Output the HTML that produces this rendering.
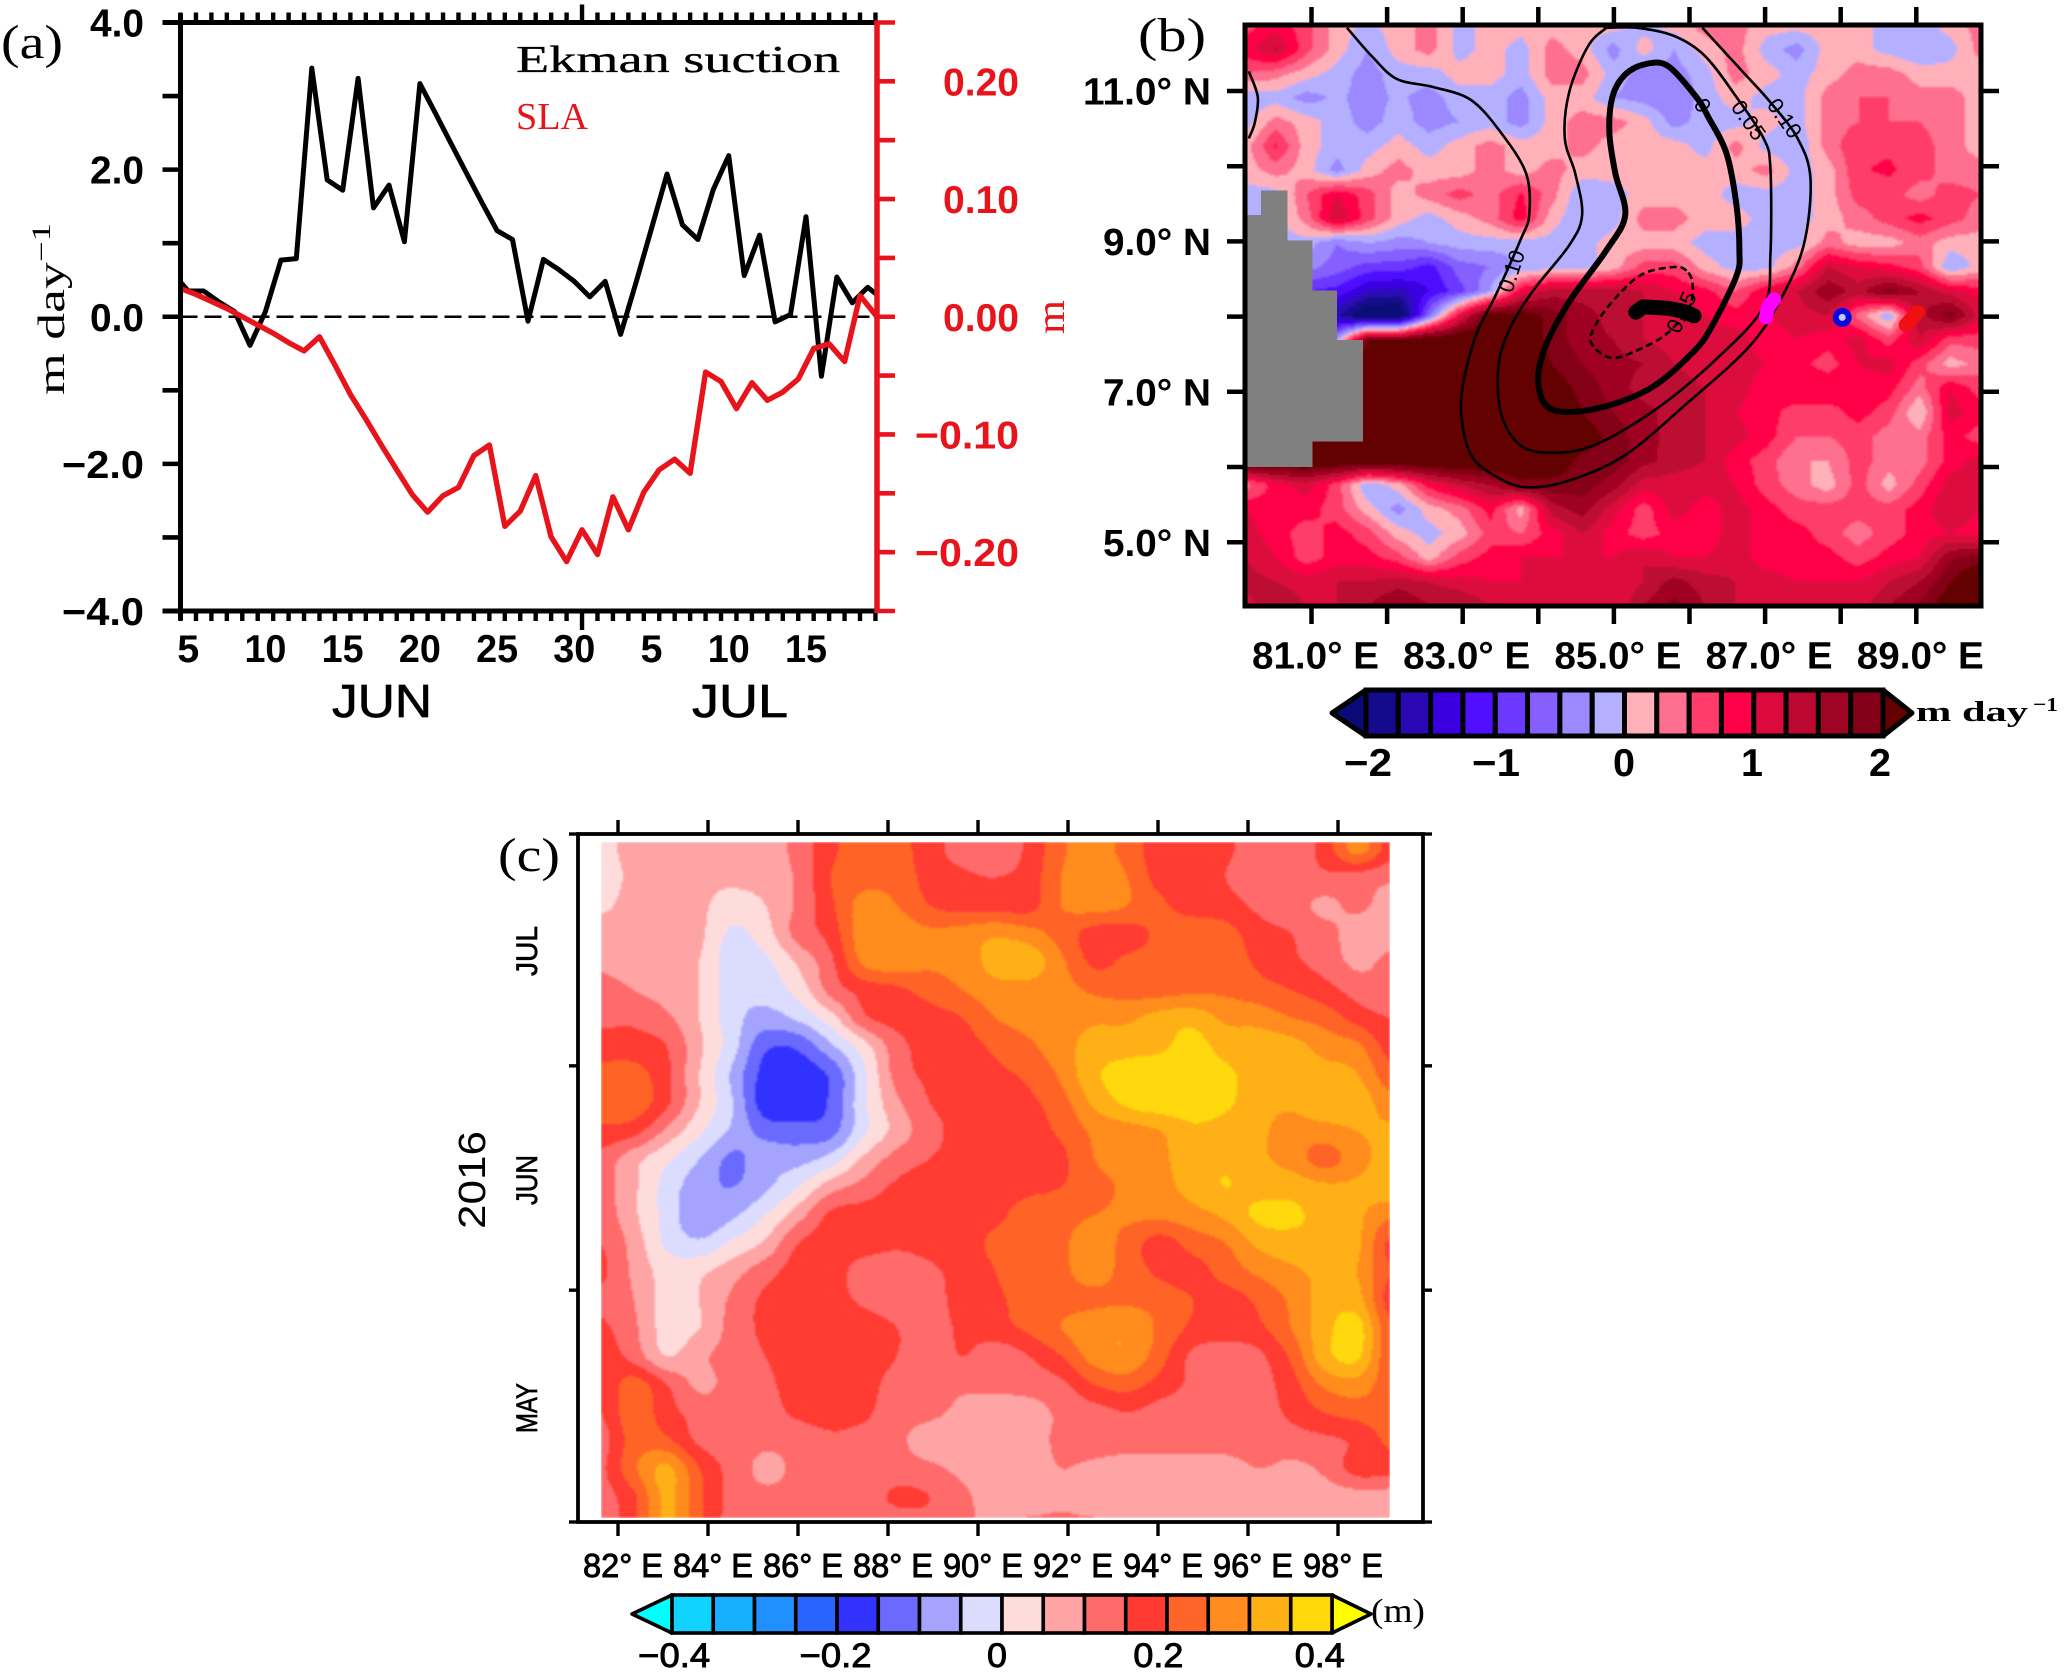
<!DOCTYPE html>
<html lang="en">
<head>
<meta charset="utf-8">
<title>Ekman suction, SLA and Hovmoller panels</title>
<style>
html,body{margin:0;padding:0;background:#fff;}
svg{display:block;}
text{font-family:"Liberation Sans",sans-serif;fill:#000;}
.serif{font-family:"Liberation Serif",serif;}
.bold{font-weight:bold;}
</style>
</head>
<body>
<svg id="chart" xmlns="http://www.w3.org/2000/svg" width="2067" height="1672" viewBox="0 0 2067 1672">
  <defs>
    <clipPath id="clipB"><rect x="1245" y="25" width="736" height="581"/></clipPath>
    <clipPath id="clipC"><rect x="601" y="842" width="789" height="676"/></clipPath>
    <filter id="soft" x="-2%" y="-2%" width="104%" height="104%"><feGaussianBlur stdDeviation="1.1"/></filter>
  </defs>
  <rect x="0" y="0" width="2067" height="1672" fill="#fff"/>
  <g id="panelA"></g>
  <g id="panelB"></g>
  <g id="panelC"></g>

  <text class="serif" x="1" y="58" font-size="48" textLength="62" lengthAdjust="spacingAndGlyphs">(a)</text>
  <text class="serif" x="1138" y="51" font-size="48" textLength="68" lengthAdjust="spacingAndGlyphs">(b)</text>
  <text class="serif" x="498" y="871" font-size="48" textLength="62" lengthAdjust="spacingAndGlyphs">(c)</text>

  <text class="serif" x="516" y="72" font-size="38" textLength="324" lengthAdjust="spacingAndGlyphs" stroke="#000" stroke-width="0.3">Ekman suction</text>
  <text class="serif" x="516" y="129" font-size="38" textLength="72" lengthAdjust="spacingAndGlyphs" style="fill:#e8141c">SLA</text>
  <text class="serif" transform="translate(64,395) rotate(-90)" font-size="38" textLength="172" lengthAdjust="spacingAndGlyphs">m day<tspan dy="-14" font-size="26">−1</tspan></text>
  <text class="serif" transform="translate(1064,334) rotate(-90)" font-size="40" textLength="34" lengthAdjust="spacingAndGlyphs" style="fill:#e8141c">m</text>
  <text x="382" y="717" text-anchor="middle" font-size="46" textLength="100" lengthAdjust="spacingAndGlyphs" stroke="#000" stroke-width="0.7">JUN</text>
  <text x="740" y="717" text-anchor="middle" font-size="46" textLength="96" lengthAdjust="spacingAndGlyphs" stroke="#000" stroke-width="0.7">JUL</text>

  <text class="serif bold" x="1916" y="721" font-size="28" textLength="112" lengthAdjust="spacingAndGlyphs">m day</text>
  <text class="serif bold" x="2033" y="711" font-size="20" textLength="25" lengthAdjust="spacingAndGlyphs">−1</text>
  <text class="serif" x="1371" y="1622" font-size="34" textLength="54" lengthAdjust="spacingAndGlyphs">(m)</text>

  <text transform="translate(485,1180) rotate(-90)" text-anchor="middle" font-size="38" textLength="98" lengthAdjust="spacingAndGlyphs">2016</text>
  <text transform="translate(537,951) rotate(-90)" text-anchor="middle" font-size="30" textLength="50" lengthAdjust="spacingAndGlyphs" stroke="#000" stroke-width="0.7">JUL</text>
  <text transform="translate(537,1180) rotate(-90)" text-anchor="middle" font-size="30" textLength="50" lengthAdjust="spacingAndGlyphs" stroke="#000" stroke-width="0.7">JUN</text>
  <text transform="translate(537,1408) rotate(-90)" text-anchor="middle" font-size="30" textLength="50" lengthAdjust="spacingAndGlyphs" stroke="#000" stroke-width="0.7">MAY</text>
</svg>

<script>
/* ===== Panel (a) data ===== */
var ekmanDays = [4.5,5,6,7,8,9,10,11,12,13,14,15,16,17,18,19,20,21,22,23,24,25,26,27,28,29,30,31,32,33,34,35,36,37,38,39,40,41,42,43,44,45,46,47,48,49,49.6];
var ekmanValues = [0.47,0.35,0.35,0.2,0.07,-0.39,0.07,0.77,0.79,3.38,1.86,1.72,3.24,1.48,1.79,1.02,3.17,2.77,2.36,1.96,1.56,1.17,1.05,-0.06,0.78,0.64,0.48,0.27,0.48,-0.24,0.47,1.20,1.94,1.25,1.05,1.73,2.19,0.56,1.11,-0.07,0.03,1.36,-0.81,0.54,0.19,0.40,0.30];
var slaDays = [4.5,5.5,6.5,7.5,8.5,9.5,10.5,11.5,12.5,13.5,14.5,15.5,16.5,17.5,18.5,19.5,20.5,21.5,22.5,23.5,24.5,25.5,26.5,27.5,28.5,29.5,30.5,31.5,32.5,33.5,34.5,35.5,36.5,37.5,38.5,39.5,40.5,41.5,42.5,43.5,44.5,45.5,46.5,47.5,48.5,49.6];
var slaValues = [0.024,0.019,0.013,0.007,0,-0.007,-0.014,-0.022,-0.029,-0.017,-0.041,-0.066,-0.087,-0.109,-0.130,-0.151,-0.166,-0.152,-0.145,-0.118,-0.109,-0.178,-0.165,-0.135,-0.187,-0.208,-0.181,-0.202,-0.153,-0.181,-0.149,-0.130,-0.121,-0.133,-0.047,-0.055,-0.078,-0.056,-0.071,-0.064,-0.053,-0.027,-0.023,-0.038,0.018,0];
var leftTickValues = [-4,-3,-2,-1,0,1,2,3,4];
var leftTickLabels = [["−4.0",-4],["−2.0",-2],["0.0",0],["2.0",2],["4.0",4]];
var rightTickValues = [-0.25,-0.2,-0.15,-0.1,-0.05,0,0.05,0.1,0.15,0.2,0.25];
var rightTickLabels = [["−0.20",-0.2],["−0.10",-0.1],["0.00",0],["0.10",0.1],["0.20",0.2]];
var dayTickLabels = [["5",5],["10",10],["15",15],["20",20],["25",25],["30",30],["5",35],["10",40],["15",45]];

/* ===== Panel (b) data: Ekman pumping, hundredths of m/day, north to south ===== */
var pumpingGrid = [
[62,90,60,12,-5,12,37,-12,12,12,12,12,12,-12,12,37,37,12,12,12,12,-12,-12,12,37],
[90,130,60,12,-25,12,37,-12,12,-12,37,12,-37,12,-25,12,37,-12,-37,12,12,-12,-25,-12,37],
[50,37,12,-12,-37,-12,-12,12,12,-12,37,37,-12,-37,-37,-12,37,12,-12,12,37,37,12,12,12],
[-20,-12,-37,-20,-37,-20,-37,-12,-12,-37,12,12,-25,-37,-50,-12,12,-12,-12,37,50,50,37,37,12],
[-12,37,12,-12,-37,-12,-37,-25,-12,-37,12,37,37,12,-37,-12,-12,12,-12,37,50,50,50,37,12],
[12,80,12,-12,-12,12,-12,12,37,12,12,37,12,12,12,-12,37,-12,-25,37,70,70,62,37,12],
[12,37,12,-37,12,37,12,12,37,12,37,12,12,12,12,12,12,37,-12,12,72,80,62,37,37],
[-12,-12,50,100,62,12,37,62,37,80,37,-25,-12,12,12,12,-12,-12,-12,12,62,62,37,62,50],
[-12,-12,37,125,62,12,-12,12,37,90,12,-25,-12,37,37,12,12,-12,-12,12,37,62,87,62,37],
[-12,-12,-12,-50,-25,-37,-25,-12,-12,-12,-12,-12,12,12,12,-12,-12,-12,-12,37,12,12,37,12,12],
[-30,-30,-40,-62,-87,-87,-112,-62,-50,-25,-12,-12,12,62,62,12,-12,-12,37,125,100,87,62,-25,12],
[-80,-80,-100,-110,-150,-160,-125,-87,-25,100,137,137,137,125,100,87,50,100,125,170,140,190,150,112,87],
[-100,-100,-120,-170,-240,-240,-60,100,220,220,190,162,140,125,125,100,87,100,112,125,40,-25,140,190,112],
[100,100,100,-30,200,200,230,240,240,230,190,160,150,125,112,112,112,87,100,87,112,62,125,60,60],
[240,240,240,240,240,240,240,240,240,230,200,175,160,150,125,112,112,100,87,62,100,112,62,12,37],
[240,240,240,240,240,240,240,240,240,240,220,190,165,137,137,125,112,87,100,100,87,87,37,100,62],
[240,240,240,240,240,240,240,240,240,240,240,200,175,160,137,125,100,87,62,62,87,62,-2,112,87],
[240,240,240,240,240,240,240,240,240,240,240,220,190,160,140,125,110,87,50,50,62,37,37,87,62],
[240,240,240,240,240,240,240,240,240,240,225,190,190,160,137,125,87,62,25,25,62,37,37,87,112],
[37,87,112,62,-25,12,87,125,150,190,190,190,162,112,112,112,100,62,37,12,62,12,62,112,112],
[100,87,87,62,12,-37,12,37,87,12,137,162,112,62,112,87,112,87,62,62,62,62,87,125,100],
[112,87,62,87,62,12,-12,12,62,50,87,125,87,62,87,87,112,87,87,62,37,62,87,100,87],
[125,100,62,87,87,62,12,62,87,100,100,100,100,125,100,100,112,87,87,87,62,87,100,170,190],
[137,125,112,125,125,137,125,112,100,100,112,100,100,125,160,137,125,112,100,100,100,125,150,200,240],
[112,150,125,125,150,180,150,150,125,125,112,100,100,150,185,150,125,125,125,125,112,150,180,225,240]
];
var pumpingLevels = [-200,-175,-150,-125,-100,-75,-50,-25,0,25,50,75,100,125,150,175,200];
var pumpingColors = ['#0a0a78','#140a8c','#2a08b4','#3a00e0','#5010ff','#6a38ff','#8660ff','#9c88ff','#b4b0ff','#ffb0b8','#ff7090','#ff3c6a','#ff0048','#dc0a3c','#bc0830','#a00424','#840018','#640000'];
var pumpingBarLabels = [["−2",-2],["−1",-1],["0",0],["1",1],["2",2]];
var landLonEdges = [80.13,80.33,80.68,81.01,81.34,81.68];
var landTopLat = [9.35,9.68,9.01,8.35,7.69];
var landBottomLat = [6,6,6,6.34,6.34];

var contourOuterLon = [81.47,81.80,82.13,82.62,83.11,83.51,83.84,83.88,83.76,83.43,83.19,83.02,82.98,83.11,83.43,83.84,84.41,85.15,85.96,86.78,87.19,87.51,87.60,87.43,87.07,86.70,86.17];
var contourOuterLat = [11.84,11.46,11.16,11.05,10.88,10.44,9.90,9.35,9.01,8.27,7.79,7.18,6.70,6.16,5.88,5.73,5.82,6.16,6.84,7.59,8.20,8.95,9.83,10.37,10.85,11.26,11.84];
var contourCornerLon = [80.17,80.29,80.25,80.17];
var contourCornerLat = [11.26,10.92,10.58,10.37];
var contourMidLon = [84.90,84.66,84.41,84.35,84.49,84.58,84.41,83.92,83.60,83.47,83.51,83.76,84.17,84.74,85.56,86.37,86.98,87.07,87.07,86.98,86.62,86.21,85.80,85.31,84.90];
var contourMidLat = [11.84,11.60,10.99,10.37,9.90,9.35,8.95,8.33,7.79,7.31,6.70,6.29,6.19,6.29,6.77,7.45,8.13,8.81,9.97,10.37,10.92,11.46,11.73,11.84,11.84];
var contourZeroLon = [86.09,86.25,86.49,86.62,86.66,86.62,86.29,86.04,85.47,84.74,84.17,84.00,84.09,84.41,84.90,85.15,85.02,84.94,84.98,85.15,85.43,85.72];
var contourZeroLat = [10.92,10.65,10.17,9.49,8.88,8.54,7.86,7.52,7.04,6.77,6.77,7.11,7.59,8.20,8.88,9.35,9.90,10.44,10.92,11.22,11.36,11.33];
var contourNegLon = [85.96,85.80,85.39,85.07,84.78,84.70,84.98,85.39,85.72,86.00,86.04];
var contourNegLat = [8.61,8.66,8.57,8.30,7.93,7.65,7.45,7.59,7.79,8.13,8.44];
var trackBlackLon = [85.29,85.39,85.72,85.92,86.06];
var trackBlackLat = [8.06,8.13,8.11,8.07,8.01];
var trackMagentaLon = [87.01,87.04,87.12];
var trackMagentaLat = [7.99,8.13,8.23];
var trackBlueLon = [88.02];
var trackBlueLat = [7.99];
var trackRedLon = [88.86,89.02];
var trackRedLat = [7.89,8.06];
var lonLabelsB = [81,83,85,87,89];
var latLabelsB = [11,9,7,5];

/* ===== Panel (c) data: SLA in cm, latest date on top ===== */
var slaHovmoller = [
[3,7,7,7,7,7,12,19,22,22,17,13,12,16,24,27,23,17,17,16,12,12,17,27,18],
[3,6,7,6,6,7,11,20,23,23,18,16,15,17,25,28,25,18,17,15,12,13,14,13,11],
[4,7,8,6,3,5,11,19,27,25,20,18,18,18,25,27,25,21,18,17,14,12,9,11,8],
[8,8,8,6,-1,3,12,17,28,28,26,27,29,27,23,18,18,21,23,22,17,15,12,8,8],
[9,8,8,5,-3,-1,6,14,26,28,26,27,32,33,26,19,21,22,23,23,19,16,13,9,11],
[12,10,8,5,-3,-3,2,12,17,19,22,25,28,28,27,24,23,23,24,24,22,20,17,13,11],
[14,14,11,5,-3,-7,-4,3,14,17,18,20,25,27,28,29,29,32,33,29,28,25,23,18,15],
[17,17,15,6,-3,-14,-14,-6,3,13,17,18,21,24,28,32,33,34,37,33,33,32,28,26,18],
[22,22,16,5,-6,-17,-18,-14,-1,12,16,17,19,21,26,34,37,38,38,36,33,33,32,30,22],
[22,23,16,5,-5,-18,-19,-14,-1,9,15,17,18,19,23,31,36,38,38,36,32,31,34,33,27],
[19,17,9,1,-6,-12,-13,-12,-1,7,13,17,18,18,21,26,28,30,34,33,31,28,28,30,31],
[13,7,1,-5,-11,-7,-7,-3,6,12,15,17,18,18,19,25,28,29,33,34,31,28,23,28,32],
[12,6,-2,-8,-10,-6,0,8,12,16,18,18,18,19,20,23,26,28,32,35,33,33,31,31,33],
[13,6,-2,-9,-6,0,8,16,17,18,18,18,19,22,23,25,26,26,28,31,36,36,33,31,26],
[15,8,-1,-4,1,6,15,17,17,16,17,18,21,23,24,28,23,18,22,25,31,33,33,31,19],
[16,9,3,4,8,13,17,17,13,12,14,17,20,23,24,27,23,19,18,22,26,29,31,30,20],
[14,10,3,5,11,16,18,17,14,12,13,17,19,22,23,24,24,23,20,18,21,26,32,32,18],
[16,11,3,5,12,16,17,18,18,15,13,16,18,21,25,28,29,24,19,18,19,25,33,37,21],
[18,13,5,9,12,15,17,18,18,15,12,15,12,15,20,27,29,22,14,12,14,21,33,36,21],
[16,22,15,9,12,14,17,18,17,13,12,11,11,12,14,20,22,18,14,12,13,18,26,28,22],
[15,23,17,13,12,13,16,17,16,12,11,9,8,8,11,13,15,13,12,12,13,16,20,22,23],
[13,22,21,14,12,11,12,14,13,11,8,8,7,8,11,12,12,12,12,12,13,13,14,16,21],
[14,24,31,20,13,9,11,12,12,12,11,9,8,8,10,9,8,8,8,8,10,9,11,17,17],
[13,19,31,21,13,11,12,12,12,16,15,11,8,7,9,7,7,7,7,7,8,9,8,8,8],
[12,19,31,21,13,12,12,12,12,12,13,11,9,11,11,11,10,8,8,8,8,8,8,8,8]
];
var slaLevels = [-40,-35,-30,-25,-20,-15,-10,-5,0,5,10,15,20,25,30,35,40];
var slaColors = ['#00ffff','#10d4ff','#16b0ff','#2090ff','#2a64ff','#3232ff','#6a6aff','#a4a4ff','#dcdcff','#ffdcdc','#ffa4a4','#ff6a6a','#ff3a33','#ff6428','#ff8c1e','#ffb014','#ffd80a','#ffff00'];
var slaBarLabels = [["−0.4",-0.4],["−0.2",-0.2],["0",0],["0.2",0.2],["0.4",0.4]];
var lonLabelsC = [82,84,86,88,90,92,94,96,98];
var monthTicksC = [121,152,182,213];

/* ===== helpers ===== */
var NS = 'http://www.w3.org/2000/svg';
function mk(tag, attrs, parent){
  var el = document.createElementNS(NS, tag);
  for (var k in attrs) el.setAttribute(k, attrs[k]);
  parent.appendChild(el);
  return el;
}
function poly(xs, ys, fx, fy){
  var s = '';
  for (var i = 0; i < xs.length; i++) s += (i ? 'L' : 'M') + fx(xs[i]).toFixed(1) + ' ' + fy(ys[i]).toFixed(1);
  return s;
}
function smooth(xs, ys, fx, fy, closed){
  var p = xs.map(function(x, i){ return [fx(x), fy(ys[i])]; });
  var n = p.length;
  function at(i){ return closed ? p[(i + n) % n] : p[Math.max(0, Math.min(n - 1, i))]; }
  var s = 'M' + p[0][0].toFixed(1) + ' ' + p[0][1].toFixed(1);
  var last = closed ? n : n - 1;
  for (var i = 0; i < last; i++){
    var a = at(i - 1), b = at(i), c = at(i + 1), d = at(i + 2);
    s += 'C' + (b[0] + (c[0] - a[0]) / 6).toFixed(1) + ' ' + (b[1] + (c[1] - a[1]) / 6).toFixed(1) + ' ' +
         (c[0] - (d[0] - b[0]) / 6).toFixed(1) + ' ' + (c[1] - (d[1] - b[1]) / 6).toFixed(1) + ' ' +
         c[0].toFixed(1) + ' ' + c[1].toFixed(1);
  }
  return s + (closed ? 'Z' : '');
}
function cr(a, b, c, d, t){
  return b + 0.5 * t * (c - a + t * (2 * a - 5 * b + 4 * c - d + t * (3 * (b - c) + d - a)));
}
function sampleGrid(g, u, v, cubic){
  var rows = g.length, cols = g[0].length;
  var j = Math.min(rows - 2, Math.max(0, Math.floor(v)));
  var i = Math.min(cols - 2, Math.max(0, Math.floor(u)));
  var tx = Math.max(0, u - i), ty = Math.max(0, v - j);
  function G(r, c){ return g[Math.max(0, Math.min(rows - 1, r))][Math.max(0, Math.min(cols - 1, c))]; }
  if (!cubic){
    return (G(j, i) * (1 - tx) + G(j, i + 1) * tx) * (1 - ty) + (G(j + 1, i) * (1 - tx) + G(j + 1, i + 1) * tx) * ty;
  }
  var r = [];
  for (var q = -1; q <= 2; q++) r.push(cr(G(j + q, i - 1), G(j + q, i), G(j + q, i + 1), G(j + q, i + 2), tx));
  return cr(r[0], r[1], r[2], r[3], ty);
}
function bandOf(v, levels){
  var b = 0;
  while (b < levels.length && v >= levels[b]) b++;
  return b;
}
/* paint a gridded field as one filled path per contour band */
function bandPaths(grid, levels, x0, y0, w, h, step, cubic, shiftY){
  var d = levels.concat([0]).map(function(){ return []; });
  var rows = grid.length - 1, cols = grid[0].length - 1;
  for (var y = 0; y < h; y += step){
    var start = 0, cur = -1;
    for (var x = 0; x < w; x += step){
      var b = bandOf(sampleGrid(grid, (x + step / 2) / w * cols, (y + step / 2 - shiftY) / h * rows, cubic), levels);
      if (b !== cur){
        if (cur >= 0) d[cur].push('M' + (x0 + start) + ' ' + (y0 + y) + 'h' + (x - start) + 'v' + step + 'h' + (start - x) + 'z');
        start = x; cur = b;
      }
    }
    d[cur].push('M' + (x0 + start) + ' ' + (y0 + y) + 'h' + (w - start) + 'v' + step + 'h' + (start - w) + 'z');
  }
  return d;
}
function label(parent, txt, x, y, anchor, size, len, cls, fill){
  var t = mk('text', {x:x, y:y + size * 0.36, 'text-anchor':anchor, 'font-size':size}, parent);
  if (len){ t.setAttribute('textLength', len); t.setAttribute('lengthAdjust', 'spacingAndGlyphs'); }
  if (cls) t.setAttribute('class', cls);
  if (fill) t.style.fill = fill;
  t.textContent = txt;
  return t;
}

/* ===== Panel (a) ===== */
(function(){
  var P = document.getElementById('panelA');
  var L = 180.5, R = 877, T = 22.5, B = 611;
  function dayX(d){ return L + (d - 4.5) * (R - L) / 45.1; }
  function leftY(v){ return (T + B) / 2 - v * (B - T) / 8; }
  function rightY(v){ return (T + B) / 2 - v * (B - T) / 0.5; }

  for (var k = 0; k <= 45; k++){
    var tx = dayX(4.5 + k), isMonth = k === 26;
    var tt = mk('line', {x1:tx, x2:tx, y1:T, y2:T - (isMonth ? 18 : 10), stroke:'#000', 'stroke-width':4.4}, P);
    
    
    var tb = mk('line', {x1:tx, x2:tx, y1:B, y2:B + (isMonth ? 19 : 10), stroke:'#000', 'stroke-width':4.4}, P);
    
    
  }
  leftTickValues.forEach(function(v){
    var t = mk('line', {x1:L, x2:L - 18, y1:leftY(v), y2:leftY(v), stroke:'#000', 'stroke-width':4.6}, P);
    
    
  });
  rightTickValues.forEach(function(v){
    var t = mk('line', {x1:R, x2:R + 18, y1:rightY(v), y2:rightY(v), stroke:'#e8141c', 'stroke-width':4.6}, P);
    
    
  });
  var z = mk('line', {x1:L, x2:R, y1:leftY(0), y2:leftY(0), stroke:'#000', 'stroke-width':2.6, 'stroke-dasharray':'17 7'}, P);
  
  

  var ek = mk('path', {d:poly(ekmanDays, ekmanValues, dayX, leftY), fill:'none', stroke:'#000', 'stroke-width':5, 'stroke-linejoin':'round'}, P);
  
  
  var sl = mk('path', {d:poly(slaDays, slaValues, dayX, rightY), fill:'none', stroke:'#e8141c', 'stroke-width':5.4, 'stroke-linejoin':'round'}, P);
  
  

  var at = mk('line', {x1:L - 18, x2:R, y1:T, y2:T, stroke:'#000', 'stroke-width':5}, P);
  
  
  var ab = mk('line', {x1:L - 18, x2:R, y1:B, y2:B, stroke:'#000', 'stroke-width':5}, P);
  
  
  var al = mk('line', {x1:L, x2:L, y1:T - 9, y2:B + 9, stroke:'#000', 'stroke-width':5}, P);
  
  
  var ar = mk('line', {x1:R, x2:R, y1:T - 2, y2:B + 2, stroke:'#e8141c', 'stroke-width':5.5}, P);
  
  

  leftTickLabels.forEach(function(e){
    var w = e[0].length === 4 ? 82 : 54;
    var t = label(P, e[0], 144, leftY(e[1]), 'end', 39, w, 'bold');
    
    
  });
  rightTickLabels.forEach(function(e){
    var w = e[0].length === 5 ? 104 : 76;
    var t = label(P, e[0], 1019, rightY(e[1]), 'end', 39, w, 'bold', '#e8141c');
    
    
  });
  dayTickLabels.forEach(function(e){
    var t = label(P, e[0], dayX(e[1]), 648, 'middle', 39, e[0].length === 2 ? 42 : 22, 'bold');
    
    
  });
})();

/* ===== Panel (b) ===== */
(function(){
  var P = document.getElementById('panelB');
  function lonX(lon){ return 1311.5 + (lon - 81) * 75.6; }
  function latY(lat){ return 91 + (11 - lat) * 75.2; }
  var L = 1245, R = 1981, T = 25, B = 606;
  var d = bandPaths(pumpingGrid, pumpingLevels, L, T, R - L, B - T, 2, false, 0);
  var F = mk('g', {filter:'url(#soft)'}, P);
  
  
  d.forEach(function(s, i){
    var b = mk('path', {d:s.join(''), fill:pumpingColors[i], 'shape-rendering':'crispEdges'}, F);
    
    
  });
  for (var i = 0; i < landTopLat.length; i++){
    var c = mk('rect', {x:lonX(landLonEdges[i]), y:latY(landTopLat[i]), width:lonX(landLonEdges[i + 1]) - lonX(landLonEdges[i]), height:latY(landBottomLat[i]) - latY(landTopLat[i]), fill:'#808080', 'shape-rendering':'crispEdges'}, P);
    
    
  }
  var G = mk('g', {'clip-path':'url(#clipB)', fill:'none', stroke:'#000'}, P);
  
  

  var c1 = mk('path', {d:smooth(contourOuterLon, contourOuterLat, lonX, latY, false), 'stroke-width':2.6}, G);
  
  
  var c2 = mk('path', {d:smooth(contourCornerLon, contourCornerLat, lonX, latY, false), 'stroke-width':2.6}, G);
  
  
  var c3 = mk('path', {d:smooth(contourMidLon, contourMidLat, lonX, latY, true), 'stroke-width':2.6}, G);
  
  
  var c4 = mk('path', {d:smooth(contourZeroLon, contourZeroLat, lonX, latY, true), 'stroke-width':6}, G);
  
  
  var c5 = mk('path', {d:smooth(contourNegLon, contourNegLat, lonX, latY, true), 'stroke-width':2.6, 'stroke-dasharray':'7 4'}, G);
  
  

  var cl = [['0.10',1511,271,-72],['0.05',1749,120,55],['0.10',1785,118,55],['0',1703,105,60],['0.05',1681,312,-65]];
  cl.forEach(function(e){
    var t = mk('text', {transform:'translate(' + e[1] + ',' + e[2] + ') rotate(' + e[3] + ')', 'text-anchor':'middle', 'font-size':22, y:8}, P);
    t.textContent = e[0];
    
    
  });

  var t1 = mk('path', {d:poly(trackBlackLon, trackBlackLat, lonX, latY), fill:'none', stroke:'#000', 'stroke-width':15, 'stroke-linecap':'round', 'stroke-linejoin':'round'}, P);
  
  
  var t2 = mk('path', {d:poly(trackMagentaLon, trackMagentaLat, lonX, latY), fill:'none', stroke:'#ff00ff', 'stroke-width':14, 'stroke-linecap':'round', 'stroke-linejoin':'round'}, P);
  
  
  var t3 = mk('circle', {cx:lonX(trackBlueLon[0]), cy:latY(trackBlueLat[0]), r:6.5, fill:'#c8c8ff', stroke:'#0808e0', 'stroke-width':6}, P);
  
  
  var t4 = mk('path', {d:poly(trackRedLon, trackRedLat, lonX, latY), fill:'none', stroke:'#f01010', 'stroke-width':14, 'stroke-linecap':'round'}, P);
  
  

  for (var lon = 81; lon <= 89; lon++){
    var a = mk('line', {x1:lonX(lon), x2:lonX(lon), y1:T, y2:T - 18, stroke:'#000', 'stroke-width':4.5}, P);
    
    
    var b2 = mk('line', {x1:lonX(lon), x2:lonX(lon), y1:B, y2:B + 18, stroke:'#000', 'stroke-width':4.5}, P);
    
    
  }
  for (var lat = 5; lat <= 11; lat++){
    var l2 = mk('line', {x1:L, x2:L - 18, y1:latY(lat), y2:latY(lat), stroke:'#000', 'stroke-width':4.5}, P);
    
    
    var r2 = mk('line', {x1:R, x2:R + 18, y1:latY(lat), y2:latY(lat), stroke:'#000', 'stroke-width':4.5}, P);
    
    
  }
  var fr = mk('rect', {x:L, y:T, width:R - L, height:B - T, fill:'none', stroke:'#000', 'stroke-width':5}, P);
  
  

  lonLabelsB.forEach(function(v){
    var t = label(P, v.toFixed(1) + '° E', lonX(v) + 4, 655, 'middle', 38, 127, 'bold');
    
    
  });
  latLabelsB.forEach(function(v){
    var t = label(P, v.toFixed(1) + '° N', 1211, latY(v), 'end', 38, v > 9 ? 128 : 108, 'bold');
    
    
  });

  /* colour bar */
  var X0 = 1366, X1 = 1883, Y0 = 690, Y1 = 736, n = pumpingColors.length - 2, bw = (X1 - X0) / n, YM = (Y0 + Y1) / 2;
  var la = mk('path', {d:'M' + X0 + ' ' + Y0 + 'L1332 ' + YM + 'L' + X0 + ' ' + Y1 + 'Z', fill:pumpingColors[0], stroke:'#000', 'stroke-width':5, 'stroke-linejoin':'round'}, P);
  
  
  var ra = mk('path', {d:'M' + X1 + ' ' + Y0 + 'L1912 ' + YM + 'L' + X1 + ' ' + Y1 + 'Z', fill:pumpingColors[17], stroke:'#000', 'stroke-width':5, 'stroke-linejoin':'round'}, P);
  
  
  for (var q = 0; q < n; q++){
    var bx = mk('rect', {x:X0 + q * bw, y:Y0, width:bw, height:Y1 - Y0, fill:pumpingColors[q + 1], stroke:'#000', 'stroke-width':5}, P);
    
    
  }
  pumpingBarLabels.forEach(function(e){
    var t = label(P, e[0], 1624 + e[1] * 128, 762, 'middle', 39, e[0].length === 2 ? 48 : 22, 'bold');
    
    
  });
})();

/* ===== Panel (c) ===== */
(function(){
  var P = document.getElementById('panelC');
  function lonX(lon){ return 618 + (lon - 82) * 45; }
  function dayY(doy){ return 1522 - (doy - 121) * 7.478; }
  var L = 578, R = 1423, T = 834, B = 1522;
  var dx0 = 601, dx1 = 1390, dy0 = 842, dy1 = 1518;
  var d = bandPaths(slaHovmoller, slaLevels, dx0, dy0, dx1 - dx0, dy1 - dy0, 2, true, 7);
  var H = mk('g', {'clip-path':'url(#clipC)'}, P);
  
  
  var F = mk('g', {filter:'url(#soft)'}, H);
  
  
  d.forEach(function(s, i){
    var b = mk('path', {d:s.join(''), fill:slaColors[i], 'shape-rendering':'crispEdges'}, F);
    
    
  });
  lonLabelsC.forEach(function(v){
    var a = mk('line', {x1:lonX(v), x2:lonX(v), y1:T, y2:T - 14, stroke:'#000', 'stroke-width':3.4}, P);
    
    
    var b = mk('line', {x1:lonX(v), x2:lonX(v), y1:B, y2:B + 14, stroke:'#000', 'stroke-width':3.4}, P);
    
    
    var t = label(P, v + '° E', lonX(v) + 5, 1565, 'middle', 33, 80);
    t.setAttribute('stroke', '#000');
    t.setAttribute('stroke-width', '0.9');
    
    
  });
  monthTicksC.forEach(function(m){
    var a = mk('line', {x1:L, x2:L - 9, y1:dayY(m), y2:dayY(m), stroke:'#000', 'stroke-width':3.4}, P);
    
    
    var b = mk('line', {x1:R, x2:R + 9, y1:dayY(m), y2:dayY(m), stroke:'#000', 'stroke-width':3.4}, P);
    
    
  });
  var fr = mk('rect', {x:L, y:T, width:R - L, height:B - T, fill:'none', stroke:'#000', 'stroke-width':3.8}, P);
  
  

  var X0 = 672, X1 = 1332, Y0 = 1595, Y1 = 1633, n = slaColors.length - 2, bw = (X1 - X0) / n, YM = (Y0 + Y1) / 2;
  var la = mk('path', {d:'M' + X0 + ' ' + Y0 + 'L632 ' + YM + 'L' + X0 + ' ' + Y1 + 'Z', fill:slaColors[0], stroke:'#000', 'stroke-width':3.6, 'stroke-linejoin':'round'}, P);
  
  
  var ra = mk('path', {d:'M' + X1 + ' ' + Y0 + 'L1371 ' + YM + 'L' + X1 + ' ' + Y1 + 'Z', fill:slaColors[17], stroke:'#000', 'stroke-width':3.6, 'stroke-linejoin':'round'}, P);
  
  
  for (var q = 0; q < n; q++){
    var bx = mk('rect', {x:X0 + q * bw, y:Y0, width:bw, height:Y1 - Y0, fill:slaColors[q + 1], stroke:'#000', 'stroke-width':3.6}, P);
    
    
  }
  slaBarLabels.forEach(function(e){
    var t = label(P, e[0], 997 + e[1] * 807, 1655, 'middle', 34, e[0].length === 4 ? 72 : (e[0].length === 3 ? 50 : 20));
    t.setAttribute('stroke', '#000');
    t.setAttribute('stroke-width', '0.9');
    
    
  });
})();
</script>
</body>
</html>
